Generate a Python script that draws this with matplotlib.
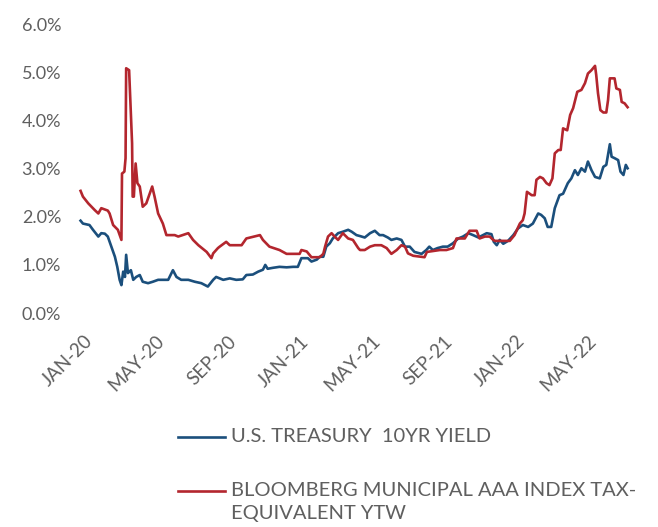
import pandas as pd
import matplotlib
matplotlib.use("Agg")
import matplotlib.pyplot as plt
from matplotlib.lines import Line2D
from matplotlib.ticker import FuncFormatter

plt.rcParams['font.family'] = ['Lato', 'DejaVu Sans']

# values (percent)
treasury_dates = [
    "2020-01-02", "2020-01-06", "2020-01-17", "2020-01-23", "2020-02-01", "2020-02-06",
    "2020-02-12", "2020-02-17", "2020-02-23", "2020-02-29", "2020-03-04", "2020-03-08",
    "2020-03-11", "2020-03-14", "2020-03-17", "2020-03-19", "2020-03-22", "2020-03-27",
    "2020-03-31", "2020-04-05", "2020-04-11", "2020-04-16", "2020-04-25", "2020-05-03",
    "2020-05-12", "2020-05-20", "2020-05-29", "2020-06-06", "2020-06-12", "2020-06-20",
    "2020-07-02", "2020-07-13", "2020-07-24", "2020-08-04", "2020-08-13", "2020-08-18",
    "2020-08-30", "2020-09-10", "2020-09-21", "2020-10-02", "2020-10-08", "2020-10-19",
    "2020-10-28", "2020-11-05", "2020-11-09", "2020-11-13", "2020-11-22", "2020-12-03",
    "2020-12-15", "2020-12-26", "2021-01-03", "2021-01-09", "2021-01-20", "2021-01-26",
    "2021-02-04", "2021-02-09", "2021-02-15", "2021-02-20", "2021-02-26", "2021-03-03",
    "2021-03-12", "2021-03-20", "2021-03-29", "2021-04-04", "2021-04-12", "2021-04-18",
    "2021-04-26", "2021-05-05", "2021-05-13", "2021-05-21", "2021-05-27", "2021-06-04",
    "2021-06-10", "2021-06-19", "2021-06-27", "2021-07-03", "2021-07-11", "2021-07-19",
    "2021-07-31", "2021-08-08", "2021-08-13", "2021-08-19", "2021-08-27", "2021-09-05",
    "2021-09-13", "2021-09-22", "2021-10-01", "2021-10-09", "2021-10-18", "2021-10-26",
    "2021-11-04", "2021-11-12", "2021-11-18", "2021-11-26", "2021-11-30", "2021-12-05",
    "2021-12-10", "2021-12-16", "2021-12-24", "2022-01-02", "2022-01-10", "2022-01-18",
    "2022-01-27", "2022-02-04", "2022-02-13", "2022-02-18", "2022-02-24", "2022-03-01",
    "2022-03-07", "2022-03-13", "2022-03-21", "2022-03-27", "2022-04-04", "2022-04-10",
    "2022-04-16", "2022-04-21", "2022-04-27", "2022-05-03", "2022-05-08", "2022-05-14",
    "2022-05-20", "2022-05-28", "2022-06-03", "2022-06-08", "2022-06-14", "2022-06-17",
    "2022-06-22", "2022-06-28", "2022-07-02", "2022-07-07", "2022-07-11", "2022-07-14",
]
treasury_yield = [
    1.92, 1.86, 1.83, 1.73, 1.59, 1.66,
    1.65, 1.59, 1.38, 1.17, 0.96, 0.69,
    0.58, 0.86, 0.75, 1.21, 0.83, 0.89,
    0.69, 0.75, 0.79, 0.65, 0.62, 0.65,
    0.69, 0.69, 0.69, 0.89, 0.75, 0.69,
    0.69, 0.65, 0.62, 0.55, 0.69, 0.75,
    0.69, 0.72, 0.69, 0.70, 0.79, 0.80,
    0.86, 0.90, 1.00, 0.92, 0.94, 0.96,
    0.95, 0.96, 0.96, 1.14, 1.14, 1.07,
    1.11, 1.17, 1.17, 1.38, 1.45, 1.55,
    1.66, 1.69, 1.73, 1.69, 1.62, 1.60,
    1.57, 1.66, 1.71, 1.62, 1.62, 1.57,
    1.52, 1.55, 1.52, 1.38, 1.38, 1.27,
    1.23, 1.31, 1.38, 1.31, 1.35, 1.38,
    1.38, 1.45, 1.55, 1.59, 1.66, 1.62,
    1.57, 1.62, 1.66, 1.64, 1.48, 1.41,
    1.52, 1.44, 1.50, 1.62, 1.76, 1.83,
    1.79, 1.86, 2.07, 2.04, 1.97, 1.79,
    1.79, 2.18, 2.45, 2.48, 2.70, 2.80,
    2.97, 2.87, 3.01, 2.94, 3.15, 2.97,
    2.83, 2.80, 3.04, 3.08, 3.51, 3.25,
    3.22, 3.18, 2.94, 2.87, 3.08, 3.01,
]

muni_dates = [
    "2020-01-02", "2020-01-06", "2020-01-15", "2020-01-26", "2020-02-01", "2020-02-06",
    "2020-02-17", "2020-02-20", "2020-02-26", "2020-03-05", "2020-03-11", "2020-03-12",
    "2020-03-16", "2020-03-18", "2020-03-19", "2020-03-24", "2020-03-29", "2020-03-30",
    "2020-04-01", "2020-04-04", "2020-04-07", "2020-04-11", "2020-04-16", "2020-04-22",
    "2020-04-28", "2020-05-02", "2020-05-06", "2020-05-12", "2020-05-20", "2020-05-26",
    "2020-06-09", "2020-06-15", "2020-07-02", "2020-07-10", "2020-07-19", "2020-08-02",
    "2020-08-10", "2020-08-13", "2020-08-21", "2020-08-24", "2020-09-04", "2020-09-10",
    "2020-09-30", "2020-10-08", "2020-10-31", "2020-11-05", "2020-11-16", "2020-12-03",
    "2020-12-15", "2021-01-06", "2021-01-09", "2021-01-18", "2021-01-26", "2021-02-09",
    "2021-02-15", "2021-02-18", "2021-02-23", "2021-03-01", "2021-03-06", "2021-03-12",
    "2021-03-20", "2021-03-29", "2021-04-06", "2021-04-15", "2021-04-18", "2021-04-26",
    "2021-05-05", "2021-05-13", "2021-05-24", "2021-06-02", "2021-06-10", "2021-06-19",
    "2021-06-27", "2021-07-03", "2021-07-08", "2021-07-17", "2021-08-05", "2021-08-09",
    "2021-08-31", "2021-09-11", "2021-09-22", "2021-09-28", "2021-10-12", "2021-10-20",
    "2021-11-01", "2021-11-06", "2021-11-15", "2021-11-23", "2021-11-29", "2021-12-02",
    "2021-12-27", "2022-01-04", "2022-01-13", "2022-01-18", "2022-01-21", "2022-01-25",
    "2022-02-02", "2022-02-07", "2022-02-10", "2022-02-16", "2022-02-21", "2022-02-27",
    "2022-03-04", "2022-03-09", "2022-03-13", "2022-03-19", "2022-03-23", "2022-03-27",
    "2022-04-03", "2022-04-08", "2022-04-13", "2022-04-20", "2022-04-27", "2022-05-03",
    "2022-05-08", "2022-05-14", "2022-05-20", "2022-05-22", "2022-05-25", "2022-05-29",
    "2022-06-03", "2022-06-08", "2022-06-11", "2022-06-14", "2022-06-22", "2022-06-25",
    "2022-07-01", "2022-07-04", "2022-07-09", "2022-07-14",
]
muni_yield = [
    2.54, 2.42, 2.28, 2.14, 2.07, 2.18,
    2.13, 2.07, 1.83, 1.73, 1.52, 2.90,
    2.94, 3.22, 5.09, 5.05, 3.53, 2.42,
    2.42, 3.11, 2.70, 2.63, 2.21, 2.28,
    2.49, 2.63, 2.42, 2.07, 1.86, 1.62,
    1.62, 1.59, 1.66, 1.52, 1.41, 1.27,
    1.14, 1.24, 1.35, 1.38, 1.48, 1.41,
    1.41, 1.55, 1.62, 1.52, 1.38, 1.31,
    1.23, 1.23, 1.31, 1.28, 1.16, 1.16,
    1.23, 1.38, 1.59, 1.66, 1.59, 1.52,
    1.66, 1.55, 1.52, 1.35, 1.31, 1.31,
    1.38, 1.41, 1.41, 1.35, 1.23, 1.31,
    1.41, 1.38, 1.24, 1.19, 1.16, 1.27,
    1.31, 1.31, 1.35, 1.55, 1.55, 1.71,
    1.71, 1.55, 1.59, 1.59, 1.52, 1.50,
    1.50, 1.62, 1.86, 1.93, 2.07, 2.52,
    2.45, 2.45, 2.77, 2.83, 2.80, 2.70,
    2.66, 2.80, 3.32, 3.39, 3.39, 3.84,
    3.80, 4.12, 4.26, 4.60, 4.64, 4.78,
    4.98, 5.05, 5.14, 4.95, 4.57, 4.22,
    4.17, 4.17, 4.43, 4.88, 4.88, 4.67,
    4.64, 4.39, 4.36, 4.28,
]

tick_labels = ["JAN-20", "MAY-20", "SEP-20", "JAN-21", "MAY-21", "SEP-21", "JAN-22", "MAY-22"]
treasury_label = "U.S. TREASURY  10YR YIELD"
muni_label = "BLOOMBERG MUNICIPAL AAA INDEX TAX-\nEQUIVALENT YTW"

blue = "#1b4f7c"
red = "#b3262e"
grey = "#5f5f5f"

fig = plt.figure(figsize=(6.58, 5.27), dpi=100)
ax = fig.add_axes([75 / 658, (527 - 313) / 527, 560 / 658, 288.5 / 527])

ax.plot(pd.to_datetime(treasury_dates), treasury_yield, color=blue, lw=1.9)
ax.plot(pd.to_datetime(muni_dates), muni_yield, color=red, lw=1.9)

start = pd.Timestamp("2020-01-01")
ax.set_xlim(start - pd.Timedelta(days=8.4), start + pd.Timedelta(days=937.5))
ax.set_ylim(0, 6)

ax.set_yticks(range(0, 7))
ax.yaxis.set_major_formatter(FuncFormatter(lambda v, p: f"{v:.1f}%"))

ticks = pd.date_range("2020-01-01", periods=len(tick_labels), freq="4MS") + pd.Timedelta(days=6)
ax.set_xticks(ticks)
ax.set_xticklabels(tick_labels, rotation=45, ha="right", va="top", rotation_mode="anchor")

ax.tick_params(axis="both", length=0, labelcolor=grey)
ax.tick_params(axis="y", pad=10, labelsize=13)
ax.tick_params(axis="x", pad=14, labelsize=13.5)
for s in ax.spines.values():
    s.set_visible(False)

# legend drawn by hand so the handle sits on the first text line
fig.add_artist(Line2D([178 / 658, 225 / 658], [1 - 436.5 / 527] * 2, color=blue, lw=1.9))
fig.text(231 / 658, 1 - 436.5 / 527, treasury_label, color=grey, fontsize=14.5, va="center")
fig.add_artist(Line2D([178 / 658, 225 / 658], [1 - 491 / 527] * 2, color=red, lw=1.9))
fig.text(231 / 658, 1 - 482 / 527, muni_label, color=grey, fontsize=14.5, va="top", linespacing=1.4)

fig.savefig("out.png", dpi=100)
